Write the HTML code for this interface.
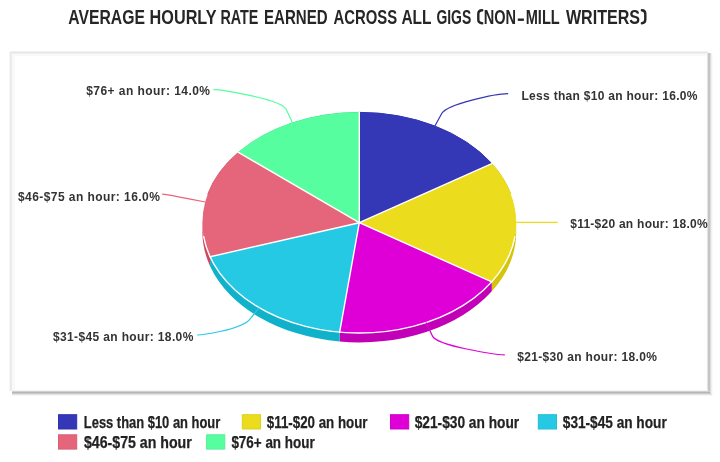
<!DOCTYPE html>
<html><head><meta charset="utf-8"><style>
html,body{margin:0;padding:0;background:#fff;width:720px;height:462px;overflow:hidden}
svg{display:block;will-change:transform}
.t{font-family:"Liberation Sans",sans-serif;font-weight:bold;fill:#262626}
.lb{font-family:"Liberation Sans",sans-serif;font-weight:bold;font-size:12px;fill:#333}
.lg{font-family:"Liberation Sans",sans-serif;font-weight:bold;font-size:16px;fill:#222;stroke:#222;stroke-width:0.25px}
</style></head><body>
<svg width="720" height="462" viewBox="0 0 720 462">
<g class="t" font-size="20.5"><text x="68.30" y="24.4" textLength="76.62" lengthAdjust="spacingAndGlyphs">AVERAGE</text>
<text x="149.60" y="24.4" textLength="67.01" lengthAdjust="spacingAndGlyphs">HOURLY</text>
<text x="220.40" y="24.4" textLength="38.01" lengthAdjust="spacingAndGlyphs">RATE</text>
<text x="264.00" y="24.4" textLength="63.60" lengthAdjust="spacingAndGlyphs">EARNED</text>
<text x="333.60" y="24.4" textLength="63.61" lengthAdjust="spacingAndGlyphs">ACROSS</text>
<text x="401.40" y="24.4" textLength="30.18" lengthAdjust="spacingAndGlyphs">ALL</text>
<text x="436.40" y="24.4" textLength="34.81" lengthAdjust="spacingAndGlyphs">GIGS</text>
<text x="483.80" y="24.4" textLength="32.30" lengthAdjust="spacingAndGlyphs">NON</text>
<text x="525.70" y="24.4" textLength="34.00" lengthAdjust="spacingAndGlyphs">MILL</text>
<text x="565.90" y="24.4" textLength="74.22" lengthAdjust="spacingAndGlyphs">WRITERS</text></g>
<rect x="517.8" y="18.5" width="6.1" height="2.4" fill="#262626"/>
<path d="M482.2,10.3 Q478.3,10.3 478.3,14 L478.3,19.6 Q478.3,23.2 482.2,23.2" fill="none" stroke="#262626" stroke-width="2.4" stroke-linecap="round"/>
<path d="M641.9,10.3 Q645.3,10.3 645.3,14 L645.3,19.6 Q645.3,23.2 641.9,23.2" fill="none" stroke="#262626" stroke-width="2.4" stroke-linecap="round"/>

<g shape-rendering="crispEdges">
<rect x="9" y="52" width="1" height="339" fill="#f6f6f6"/>
<rect x="10" y="52" width="1" height="339" fill="#eaeaea"/>
<rect x="11" y="52" width="1" height="339" fill="#ececec"/>
<rect x="12" y="54" width="3" height="336" fill="#f9f9f9"/>
<rect x="10" y="51" width="698" height="1" fill="#f3f3f3"/>
<rect x="10" y="52" width="698" height="1" fill="#e6e6e6"/>
<rect x="11" y="53" width="697" height="1" fill="#efefef"/>
<rect x="12" y="54" width="695" height="2" fill="#f9f9f9"/>
<rect x="706" y="53" width="1" height="338" fill="#fcfcfc"/>
<rect x="707" y="53" width="1" height="338" fill="#e4e4e4"/>
<rect x="708" y="53" width="2" height="339" fill="#c5c5c5"/>
<rect x="710" y="53" width="1" height="340" fill="#dcdcdc"/>
<rect x="711" y="53" width="1" height="341" fill="#f0f0f0"/>
<rect x="712" y="54" width="1" height="341" fill="#fafafa"/>
<rect x="12" y="390" width="696" height="1" fill="#f4f4f4"/>
<rect x="12" y="391" width="698" height="1" fill="#d0d0d0"/>
<rect x="12" y="392" width="698" height="1" fill="#b6b6b6"/>
<rect x="12" y="393" width="699" height="1" fill="#c9c9c9"/>
<rect x="12" y="394" width="700" height="1" fill="#e4e4e4"/>
<rect x="12" y="395" width="700" height="1" fill="#f6f6f6"/>
</g>
<g>
<path d="M516.20,222.70 A156.90,110.35 0 0 1 491.78,281.83 L491.78,291.23 A156.90,110.35 0 0 0 516.20,232.10 Z" fill="#d4c40c"/>
<path d="M491.78,281.83 A156.90,110.35 0 0 1 339.64,332.18 L339.64,341.58 A156.90,110.35 0 0 0 491.78,291.23 Z" fill="#c200b8"/>
<path d="M339.64,332.18 A156.90,110.35 0 0 1 210.08,256.80 L210.08,266.20 A156.90,110.35 0 0 0 339.64,341.58 Z" fill="#10b1ca"/>
<path d="M210.08,256.80 A156.90,110.35 0 0 1 202.40,222.70 L202.40,232.10 A156.90,110.35 0 0 0 210.08,266.20 Z" fill="#cc4a60"/>
<path d="M359.30,112.35 A156.90,110.35 0 0 1 491.78,163.57" fill="none" stroke="#2b2ea4" stroke-width="1"/>
<path d="M491.78,163.57 A156.90,110.35 0 0 1 510.85,194.14" fill="none" stroke="#d4c40c" stroke-width="1"/>
<path d="M207.75,194.14 A156.90,110.35 0 0 1 238.41,152.36" fill="none" stroke="#cc4a60" stroke-width="1"/>
<path d="M238.41,152.36 A156.90,110.35 0 0 1 359.30,112.35" fill="none" stroke="#3ee088" stroke-width="1"/>
<path d="M359.30,222.70 L359.30,112.35 A156.90,110.35 0 0 1 491.78,163.57 Z" fill="#3437b6"/>
<path d="M359.30,222.70 L491.78,163.57 A156.90,110.35 0 0 1 491.78,281.83 Z" fill="#ebdc1e"/>
<path d="M359.30,222.70 L491.78,281.83 A156.90,110.35 0 0 1 339.64,332.18 Z" fill="#de00d6"/>
<path d="M359.30,222.70 L339.64,332.18 A156.90,110.35 0 0 1 210.08,256.80 Z" fill="#25c9e4"/>
<path d="M359.30,222.70 L210.08,256.80 A156.90,110.35 0 0 1 238.41,152.36 Z" fill="#e5657a"/>
<path d="M359.30,222.70 L238.41,152.36 A156.90,110.35 0 0 1 359.30,112.35 Z" fill="#57fea0"/>
<path d="M359.30,222.70 L359.30,112.35 M359.30,222.70 L491.78,163.57 M359.30,222.70 L491.78,281.83 M359.30,222.70 L339.64,332.18 M359.30,222.70 L210.08,256.80 M359.30,222.70 L238.41,152.36" fill="none" stroke="#fff" stroke-width="1.4" stroke-linecap="round"/><path d="M515.03,236.15 A156.90,110.35 0 0 1 203.57,236.15" fill="none" stroke="#fff" stroke-width="1.4"/>
</g>
<g>
<path d="M508.20,93.60 C495.20,93.60 446.76,104.40 441.87,113.29 L434.89,126.00" fill="none" stroke="#3437b6" stroke-width="1.2"/>
<path d="M557.80,222.30 L516.20,222.30" fill="none" stroke="#ebdc1e" stroke-width="1.2"/>
<path d="M504.80,354.80 C494.80,354.80 436.96,345.62 432.49,336.12 L426.10,322.55" fill="none" stroke="#de00d6" stroke-width="1.2"/>
<path d="M197.20,335.00 C199.20,335.00 240.64,330.26 249.73,319.28 L259.29,307.73" fill="none" stroke="#25c9e4" stroke-width="1.2"/>
<path d="M162.20,194.20 C167.20,194.20 175.71,196.40 190.44,199.21 L205.18,202.02" fill="none" stroke="#e5657a" stroke-width="1.2"/>
<path d="M213.50,89.60 C218.50,89.60 281.00,98.42 286.11,109.28 L292.50,122.85" fill="none" stroke="#57fea0" stroke-width="1.2"/>
</g>
<g class="lb">
<text x="521.50" y="99.80" textLength="175.90" lengthAdjust="spacing">Less than $10 an hour: 16.0%</text>
<text x="570.20" y="227.80" textLength="137.40" lengthAdjust="spacing">$11-$20 an hour: 18.0%</text>
<text x="517.30" y="360.80" textLength="139.50" lengthAdjust="spacing">$21-$30 an hour: 18.0%</text>
<text x="52.90" y="340.70" textLength="140.40" lengthAdjust="spacing">$31-$45 an hour: 18.0%</text>
<text x="17.90" y="200.70" textLength="141.90" lengthAdjust="spacing">$46-$75 an hour: 16.0%</text>
<text x="86.25" y="95.00" textLength="123.75" lengthAdjust="spacing">$76+ an hour: 14.0%</text>
</g>
<g class="lg">
<rect x="58.5" y="414.7" width="18.2" height="14.3" fill="#3437b6" stroke="#3134ac" stroke-width="1"/>
<text x="83.80" y="427.80" textLength="136.49" lengthAdjust="spacingAndGlyphs">Less than $10 an hour</text>
<rect x="242.3" y="414.7" width="18.2" height="14.3" fill="#ebdc1e" stroke="#dfd11c" stroke-width="1"/>
<text x="266.80" y="427.80" textLength="100.69" lengthAdjust="spacingAndGlyphs">$11-$20 an hour</text>
<rect x="390.5" y="414.7" width="18.2" height="14.3" fill="#de00d6" stroke="#d200cb" stroke-width="1"/>
<text x="414.70" y="427.80" textLength="104.49" lengthAdjust="spacingAndGlyphs">$21-$30 an hour</text>
<rect x="538.3" y="414.7" width="18.2" height="14.3" fill="#25c9e4" stroke="#23bed8" stroke-width="1"/>
<text x="562.80" y="427.80" textLength="103.89" lengthAdjust="spacingAndGlyphs">$31-$45 an hour</text>
<rect x="58.5" y="434.8" width="18.2" height="14.3" fill="#e5657a" stroke="#d95f73" stroke-width="1"/>
<text x="83.90" y="447.80" textLength="107.89" lengthAdjust="spacingAndGlyphs">$46-$75 an hour</text>
<rect x="206.6" y="434.8" width="18.2" height="14.3" fill="#57fea0" stroke="#52f198" stroke-width="1"/>
<text x="231.40" y="447.80" textLength="83.29" lengthAdjust="spacingAndGlyphs">$76+ an hour</text>
</g>
</svg>
</body></html>
